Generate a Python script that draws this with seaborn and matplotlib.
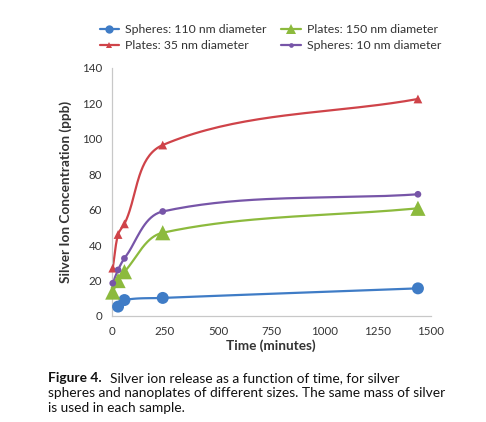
import numpy as np
import pandas as pd
import seaborn as sns
import matplotlib.pyplot as plt
from matplotlib.lines import Line2D

# data
time_min = [5, 30, 60, 240, 1440]
spheres_110 = [None, 5.3, 9.0, 10.2, 15.6]
plates_35 = [27, 46, 52, 96.5, 122.5]
plates_150 = [13.5, 20, 25, 47, 60.8]
spheres_10 = [18.5, 26, 32.5, 59, 68.7]

labels = ["Spheres: 110 nm diameter", "Plates: 35 nm diameter",
          "Plates: 150 nm diameter", "Spheres: 10 nm diameter"]
colors = ["#3f7cc6", "#cf4349", "#8cba3d", "#7755a8"]
markers = ["o", "^", "^", "o"]
msizes = [7.5, 5.5, 9.5, 4.2]

df = pd.DataFrame({"time": time_min, labels[0]: spheres_110, labels[1]: plates_35,
                   labels[2]: plates_150, labels[3]: spheres_10})
long = df.melt(id_vars="time", var_name="series", value_name="ppb").dropna()

sns.set_style("white")
plt.rcParams["font.family"] = ["Lato", "DejaVu Sans"]

fig = plt.figure(figsize=(4.86, 4.22), dpi=100)
ax = fig.add_axes([0.2298, 0.2512, 0.6564, 0.5877])

XMAX, YMAX = 1500, 140
# scale so the smoothing is done in roughly screen space
sx, sy = 319 / XMAX, 248 / YMAX


def smooth(x, y, n=40):
    # bezier through the points, tangent from neighbours, handle = 1/3 of the segment
    p = np.column_stack([np.asarray(x) * sx, np.asarray(y) * sy])
    k = len(p)
    d = np.zeros_like(p)
    for i in range(k):
        a, b = p[max(i - 1, 0)], p[min(i + 1, k - 1)]
        v = b - a
        d[i] = v / np.hypot(*v)
    t = np.linspace(0, 1, n)[:, None]
    out = []
    for i in range(k - 1):
        L = np.hypot(*(p[i + 1] - p[i]))
        c1 = p[i] + d[i] * L / 3
        c2 = p[i + 1] - d[i + 1] * L / 3
        seg = ((1 - t) ** 3 * p[i] + 3 * (1 - t) ** 2 * t * c1
               + 3 * (1 - t) * t ** 2 * c2 + t ** 3 * p[i + 1])
        out.append(seg)
    out = np.vstack(out)
    return out[:, 0] / sx, out[:, 1] / sy


handles = []
for lab, c, m, ms in zip(labels, colors, markers, msizes):
    sub = long[long["series"] == lab]
    cx, cy = smooth(sub["time"].values, sub["ppb"].values)
    ax.plot(cx, cy, color=c, lw=1.6, zorder=2, clip_on=False)
    sns.scatterplot(data=sub, x="time", y="ppb", color=c, marker=m, s=(ms * 1.15) ** 2,
                    edgecolor="none", ax=ax, zorder=3, legend=False, clip_on=False)
    handles.append(Line2D([0], [0], color=c, lw=1.6, marker=m, markersize=ms * 0.8,
                          markeredgewidth=0))

ax.set_xlim(0, XMAX)
ax.set_ylim(0, YMAX)
ax.set_xticks(range(0, 1501, 250))
ax.set_yticks(range(0, 141, 20))
for s in ["top", "right"]:
    ax.spines[s].set_visible(False)
for s in ["left", "bottom"]:
    ax.spines[s].set_color("#c8c8c8")
    ax.spines[s].set_linewidth(0.9)
ax.tick_params(axis="both", length=4, width=0.8, color="#c8c8c8", labelsize=8.3,
               labelcolor="#333333", pad=3, direction="out")
ax.set_xlabel("Time (minutes)", fontsize=9.8, fontweight="bold", color="#333333", labelpad=2)
ax.set_ylabel("Silver Ion Concentration (ppb)", fontsize=9.8, fontweight="bold",
              color="#333333", labelpad=7)

leg = fig.legend(handles, labels, loc="upper left", bbox_to_anchor=(0.195, 0.955), ncol=2,
                 frameon=False, fontsize=8.8, handlelength=1.6, handletextpad=0.5,
                 columnspacing=1.2, labelspacing=0.45, borderaxespad=0)
for t in leg.get_texts():
    t.set_color("#333333")

cap = dict(fontsize=9.9, color="#111111", va="center")
fig.text(48 / 486, 1 - 378 / 422, "Figure 4.", fontweight="bold", **cap)
fig.text(110 / 486, 1 - 378 / 422, "Silver ion release as a function of time, for silver", **cap)
fig.text(48 / 486, 1 - 393 / 422, "spheres and nanoplates of different sizes. The same mass of silver", **cap)
fig.text(48 / 486, 1 - 408 / 422, "is used in each sample.", **cap)

fig.savefig("out.png", dpi=100)
